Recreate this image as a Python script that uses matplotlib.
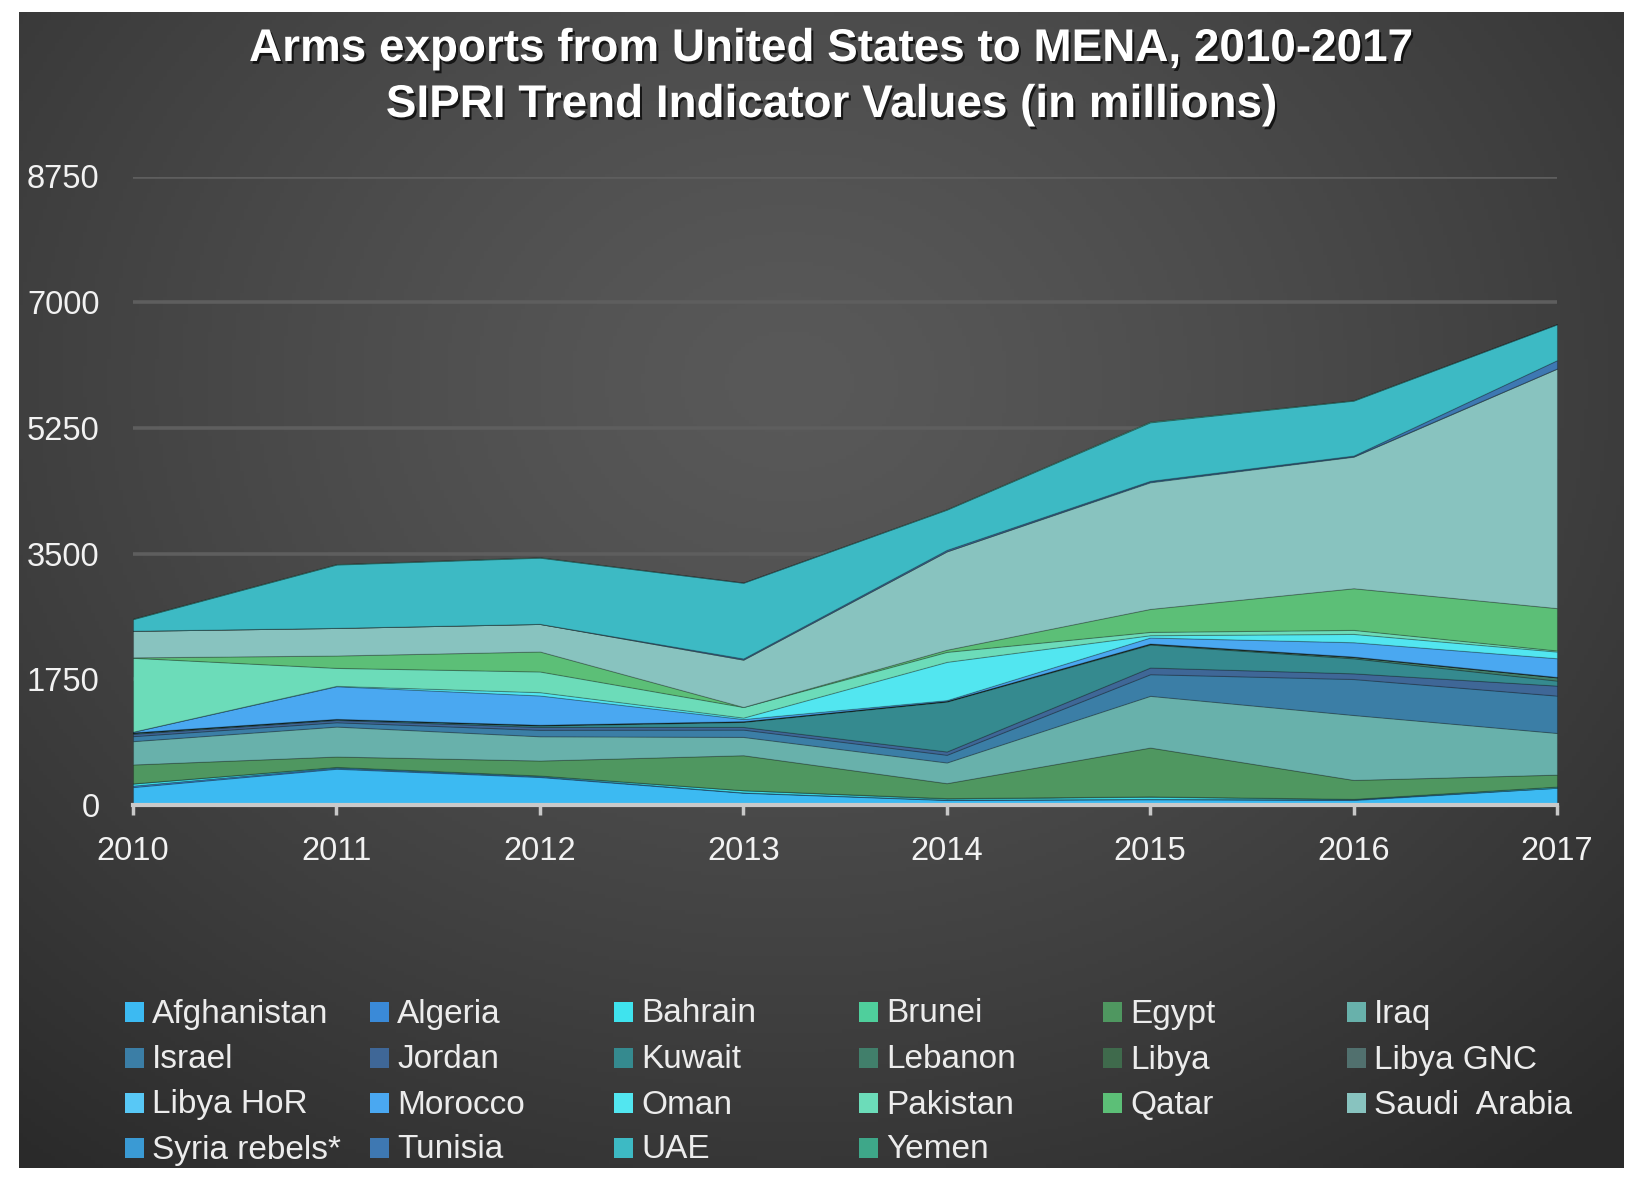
""" US arms exports to MENA, 2010-2017 (SIPRI TIV) - stacked area chart
"""
import numpy as np
import matplotlib.pyplot as plt
import matplotlib.patheffects as pe
from matplotlib.patches import Rectangle

plt.rcParams['font.family'] = ['Liberation Sans', 'DejaVu Sans']

years = [2010, 2011, 2012, 2013, 2014, 2015, 2016, 2017]

countries = ['Afghanistan', 'Algeria', 'Bahrain', 'Brunei', 'Egypt', 'Iraq',
             'Israel', 'Jordan', 'Kuwait', 'Lebanon', 'Libya', 'Libya GNC',
             'Libya HoR', 'Morocco', 'Oman', 'Pakistan', 'Qatar', 'Saudi  Arabia',
             'Syria rebels*', 'Tunisia', 'UAE', 'Yemen']

# values (millions of TIV)
afghanistan = [250, 505, 390, 171, 70, 80, 70, 241]
algeria     = [20, 15, 10, 5, 5, 5, 10, 0]
bahrain     = [30, 10, 10, 30, 15, 30, 5, 15]
brunei      = [0, 0, 0, 0, 5, 5, 0, 0]
egypt       = [264, 145, 209, 487, 209, 680, 264, 167]
iraq        = [325, 417, 338, 255, 288, 720, 904, 580]
israel      = [70, 60, 90, 102, 107, 301, 501, 520]
jordan      = [32, 32, 40, 37, 46, 93, 79, 139]
kuwait      = [10, 10, 20, 70, 695, 320, 209, 70]
lebanon     = [10, 5, 10, 10, 10, 10, 20, 46]
libya       = [0, 0, 0, 0, 0, 5, 0, 0]
libya_gnc   = [0, 0, 0, 0, 0, 0, 5, 5]
libya_hor   = [0, 0, 0, 0, 0, 0, 0, 0]
morocco     = [10, 455, 408, 30, 10, 83, 199, 260]
oman        = [0, 5, 46, 20, 533, 32, 116, 93]
pakistan    = [1029, 250, 288, 148, 139, 46, 56, 15]
qatar       = [5, 172, 278, 0, 30, 320, 580, 590]
saudi       = [371, 385, 385, 660, 1370, 1763, 1832, 3336]
syria_reb   = [0, 0, 0, 0, 0, 10, 5, 0]
tunisia     = [0, 0, 0, 15, 20, 10, 10, 116]
uae         = [162, 882, 922, 1055, 560, 815, 765, 500]
yemen       = [5, 5, 5, 0, 5, 10, 5, 0]

series = [afghanistan, algeria, bahrain, brunei, egypt, iraq, israel, jordan,
          kuwait, lebanon, libya, libya_gnc, libya_hor, morocco, oman, pakistan,
          qatar, saudi, syria_reb, tunisia, uae, yemen]

colors = ['#3cbaf2', '#3a8ad8', '#3fe3ee', '#4fcf9c', '#4f9760', '#68b1ab',
          '#3b7ea6', '#3f6797', '#358a8f', '#417f6b', '#3f6a4c', '#51706e',
          '#58c8f6', '#4aa8f1', '#52e6f0', '#6cdcb9', '#5cbf77', '#88c3bf',
          '#3a9ad4', '#3e78b2', '#3dbac4', '#3ea789']

yticks = [0, 1750, 3500, 5250, 7000, 8750]

W, H = 1638, 1184
fig = plt.figure(figsize=(W / 100, H / 100), dpi=100, facecolor='white')

# dark panel with soft radial light
bg = fig.add_axes([19 / W, 16 / H, 1605 / W, 1156 / H])
u, v = np.meshgrid(np.linspace(0, 1, 400), np.linspace(1, 0, 300))
d = np.sqrt(((u - 0.48) / 0.75) ** 2 + ((v - 0.68) / 0.85) ** 2)
shade = 0x59 / 255 - (0x59 - 0x2b) / 255 * np.clip(d, 0, 1) ** 1.3
bg.imshow(np.dstack([shade] * 3), aspect='auto', extent=[0, 1, 0, 1])
bg.axis('off')

ax = fig.add_axes([133 / W, 1 - 805 / H, 1424 / W, 628.5 / H])
ax.patch.set_alpha(0)
ax.stackplot(years, *series, colors=colors, edgecolor=(0, 0, 0, 0.22),
             linewidth=0.8, zorder=2)

ax.set_xlim(2010, 2017)
ax.set_ylim(0, 8750)
ax.set_xticks(years)
ax.set_yticks(yticks)
ax.set_yticklabels([str(t) for t in yticks])
for s in ax.spines.values():
    s.set_visible(False)
ax.set_axisbelow(True)
ax.yaxis.grid(True, color='#5e5e5e', linewidth=2.6)
ax.axhline(0, color='#cacaca', linewidth=3, zorder=3, clip_on=False)
ax.tick_params(axis='y', length=0, pad=24, labelsize=23.5, labelcolor='#f2f2f2')
ax.tick_params(axis='x', length=7, width=2.5, color='#c8c8c8', pad=15,
               labelsize=23.5, labelcolor='#f2f2f2')

shadow = [pe.withSimplePatchShadow(offset=(1.5, -2), shadow_rgbFace='black', alpha=0.7)]
fig.text(832 / W, 1 - 49 / H, 'Arms exports from United States to MENA, 2010-2017',
         ha='center', va='center', fontsize=33, fontweight='bold', color='white',
         path_effects=shadow)
fig.text(832 / W, 1 - 105 / H, 'SIPRI Trend Indicator Values (in millions)',
         ha='center', va='center', fontsize=33, fontweight='bold', color='white',
         path_effects=shadow)

# legend, 6 columns filled row by row
col_x = [125, 370, 614, 859, 1103, 1347]
row_y = [1014, 1060, 1105, 1150]
for i, (name, c) in enumerate(zip(countries, colors)):
    x0 = col_x[i % 6]
    y0 = row_y[i // 6]
    fig.patches.append(Rectangle((x0 / W, 1 - (y0 + 8) / H), 19 / W, 20 / H,
                                 transform=fig.transFigure, facecolor=c,
                                 edgecolor='none'))
    fig.text((x0 + 27) / W, 1 - y0 / H, name, ha='left', va='center',
             fontsize=24, color='#ececec')

fig.savefig('out.png', dpi=100, facecolor='white')
